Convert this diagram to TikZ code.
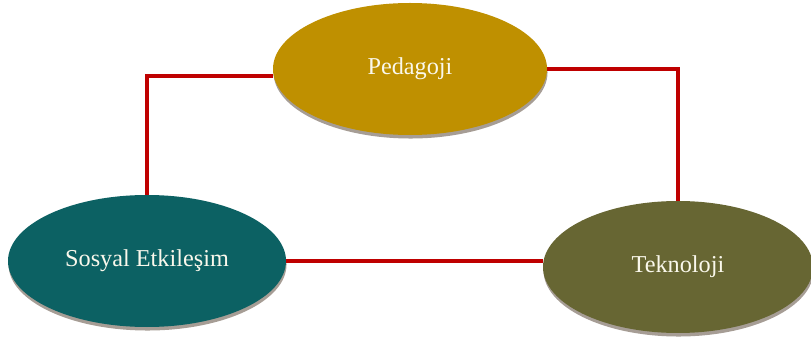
\documentclass[tikz,border=0pt]{standalone}
\usepackage{fontspec}
\setmainfont{Liberation Serif}
\usepackage{tikz}
\usetikzlibrary{shapes.geometric}
\usetikzlibrary{shadows}
\definecolor{pedgold}{HTML}{BF9000}
\definecolor{sosteal}{HTML}{0C6163}
\definecolor{tekolive}{HTML}{676633}
\definecolor{linkred}{HTML}{BF0000}
\definecolor{labelcream}{HTML}{FAF8EC}
\newcommand*{\picwd }{16.22}
\newcommand*{\picht }{6.84}
\newcommand*{\elht  }{2.64cm}

\begin{document}
\begin{tikzpicture}[
        blob/.style={ellipse, inner sep=0pt, minimum height=\elht, text=labelcream,
            font=\fontsize{13.8}{16}\selectfont,
            drop shadow={opacity=0.45, shadow xshift=0.3pt, shadow yshift=-2pt, fill=black!70!brown}},
        link/.style={draw=linkred, line width=2.3pt}]
        \useasboundingbox (0,0) rectangle (\picwd,\picht);
        \node [blob, fill=pedgold,  minimum width=5.48cm] (ped) at ( 8.20,5.46) {Pedagoji};
        \node [blob, fill=sosteal,  minimum width=5.56cm] (sos) at ( 2.94,1.62) {Sosyal Etkileşim};
        \node [blob, fill=tekolive, minimum width=5.40cm] (tek) at (13.56,1.50) {Teknoloji};
        \draw [link] (ped.183.4) -| (sos.north);
        \draw [link] (ped.east) -| (tek.north);
        \draw [link] (sos.east) -- (sos.east -| tek.west);
        %\draw [link] (sos.east) -- (tek.west);
    \end{tikzpicture}
\end{document}
